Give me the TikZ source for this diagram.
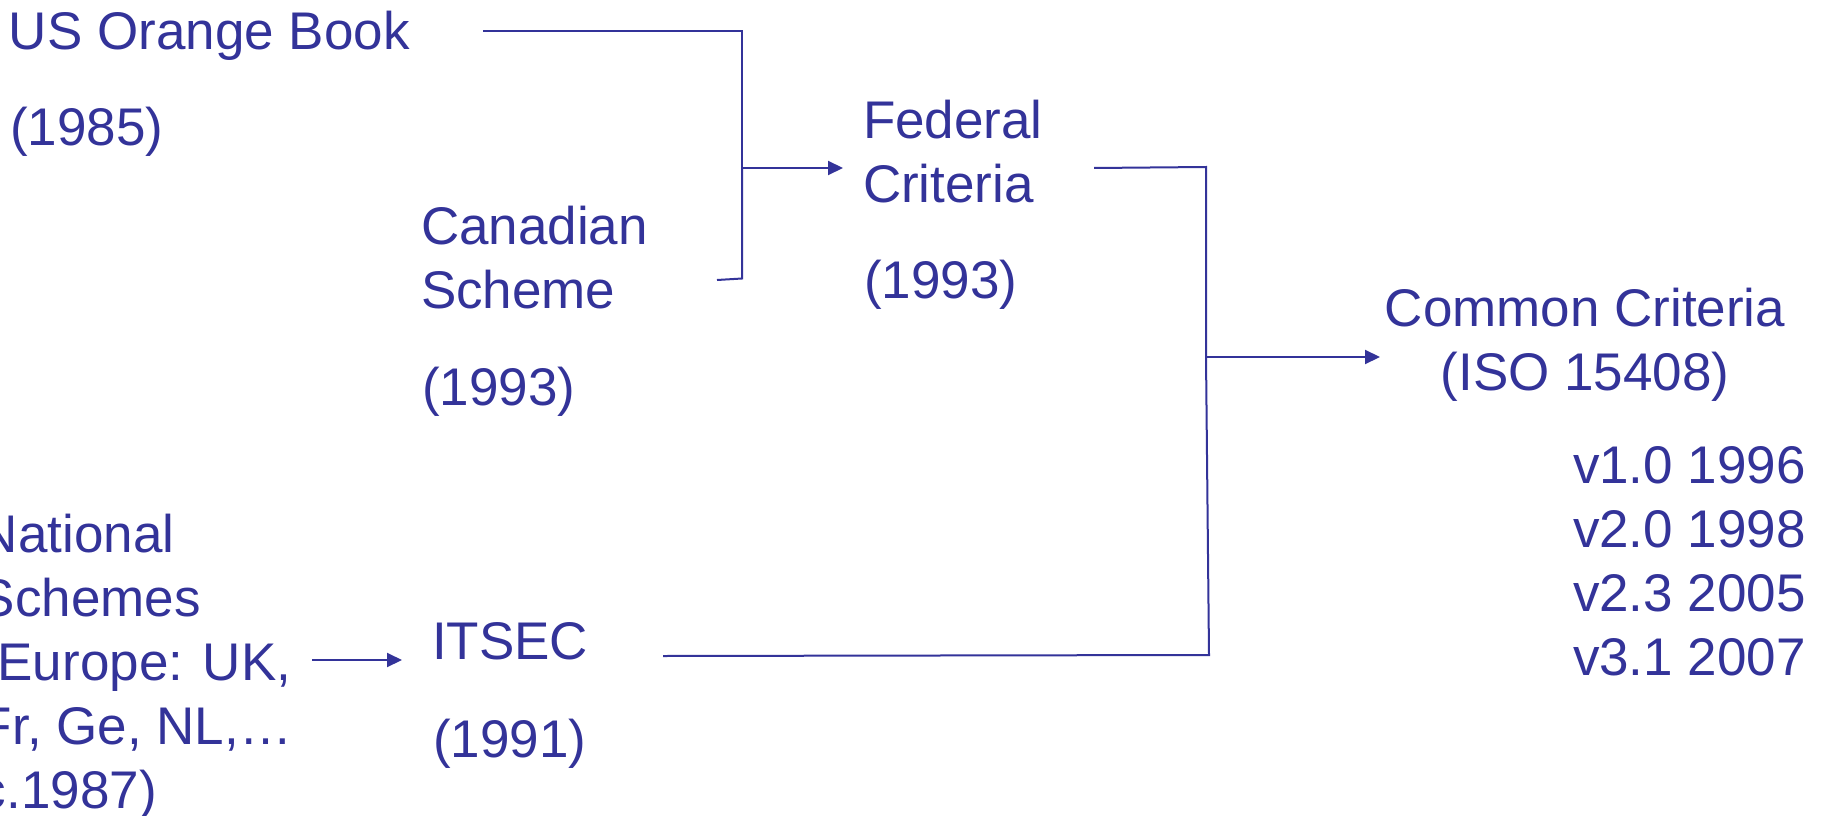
\documentclass[tikz,border=0pt]{standalone}
\usepackage{fontspec}
\setmainfont{Liberation Sans}
\usetikzlibrary{arrows.meta}
\definecolor{ink}{RGB}{51,51,153}
\tikzset{
  label/.style={text=ink, inner sep=0pt, outer sep=0pt, anchor=base west,
    font=\fontsize{53}{64}\selectfont, align=left},
  wire/.style={draw=ink, line width=2pt, line join=miter},
  feed/.style={wire, -{Triangle[length=15pt,width=14pt]}}
}
\begin{document}
\begin{tikzpicture}[x=1pt, y=-1pt]
  \useasboundingbox (0,0) rectangle (1825,816);

  % sources and standards (multi-line labels sit on their last baseline)
  \node[label] (orange)   at (9,49)    {US Orange Book};
  \node[label] (orangeyr) at (10,145)  {(1985)};
  \node[label] (canada)   at (421,308) {Canadian\\Scheme};
  \node[label] (canadayr) at (422,405) {(1993)};
  \node[label] (federal)  at (863,202) {Federal\\Criteria};
  \node[label] (federalyr)at (864,298) {(1993)};
  \node[label] (national) at (-20,808) {National\\Schemes\\(Europe: UK,\\Fr, Ge, NL,\dots\\c.1987)};
  \node[label] (itsec)    at (432,659) {ITSEC};
  \node[label] (itsecyr)  at (433,757) {(1991)};
  \node[label, anchor=base, align=center] (cc) at (1585,390) {Common Criteria\\(ISO 15408)};
  \node[label] (versions) at (1573,675) {v1.0 1996\\v2.0 1998\\v2.3 2005\\v3.1 2007};

  % connector end points and junctions
  \coordinate (orange-out)  at (483,31);
  \coordinate (canada-out)  at (717,280);
  \coordinate (fed-join)    at (742,168);
  \coordinate (federal-in)  at (843,168);
  \coordinate (federal-out) at (1094,168);
  \coordinate (itsec-out)   at (663,656);
  \coordinate (cc-join)     at (1206,357);
  \coordinate (cc-in)       at (1380,357);
  \coordinate (national-out)at (312,660);
  \coordinate (itsec-in)    at (402,660);

  % merging into the Federal Criteria
  \draw[wire] (orange-out) -- (742,31) -- (fed-join);
  \draw[wire] (canada-out) -- (742,278.5) -- (fed-join);
  \draw[feed] (fed-join) -- (federal-in);

  % merging into the Common Criteria
  \draw[wire] (federal-out) -- (1206,167) -- (cc-join);
  \draw[wire] (itsec-out) -- (1209,655) -- (cc-join);
  \draw[feed] (cc-join) -- (cc-in);

  % national schemes feeding ITSEC
  \draw[feed] (national-out) -- (itsec-in);
\end{tikzpicture}
\end{document}
